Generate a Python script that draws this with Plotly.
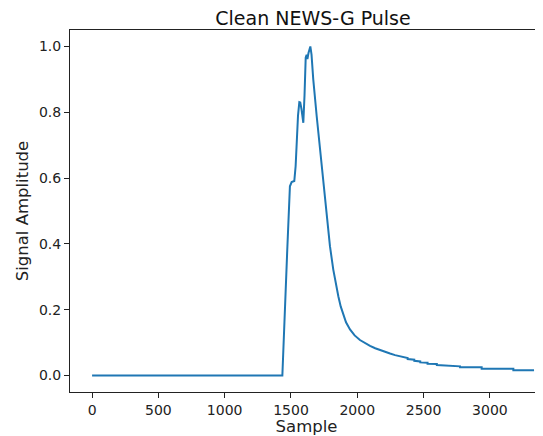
import plotly.graph_objects as go

# Breakpoints of the pulse (sample index, amplitude)
samples = [0, 1435, 1472, 1492, 1505, 1525, 1535, 1543, 1553, 1563, 1570, 1579,
           1593, 1602, 1611, 1618, 1624, 1632, 1646, 1655, 1668, 1694, 1719,
           1744, 1769, 1794, 1819, 1838, 1857, 1875, 1894, 1915, 1945, 1980,
           2020, 2060, 2096, 2135, 2172, 2210, 2247, 2285, 2322, 2380, 2380,
           2430, 2430, 2475, 2475, 2530, 2530, 2600, 2600, 2655, 2655, 2775,
           2775, 2938, 2938, 3177, 3177, 3333]
amplitude = [0.0, 0.0, 0.383, 0.575, 0.588, 0.591, 0.636, 0.717, 0.79, 0.831,
             0.83, 0.81, 0.768, 0.85, 0.966, 0.975, 0.962, 0.98, 1.0, 0.975,
             0.90, 0.788, 0.687, 0.575, 0.474, 0.393, 0.322, 0.278, 0.241,
             0.210, 0.185, 0.162, 0.140, 0.122, 0.108, 0.098, 0.090, 0.083,
             0.077, 0.072, 0.067, 0.062, 0.058, 0.053, 0.050, 0.048, 0.045,
             0.043, 0.040, 0.039, 0.036, 0.035, 0.032, 0.031, 0.029, 0.028,
             0.025, 0.025, 0.021, 0.021, 0.016, 0.016]

x_ticks = [0, 500, 1000, 1500, 2000, 2500, 3000]
y_ticks = [0.0, 0.2, 0.4, 0.6, 0.8, 1.0]

# the page has an 8px body margin, so the figure is 8px smaller than the window
W, H = 535, 428
font = "DejaVu Sans"

fig = go.Figure(go.Scatter(
    x=samples, y=amplitude, mode="lines",
    line=dict(color="#1f77b4", width=2),
    hoverinfo="skip", showlegend=False))

fig.update_layout(
    width=W, height=H,
    margin=dict(l=62, r=0, t=22, b=44),
    paper_bgcolor="white", plot_bgcolor="white",
    font=dict(family=font, size=14, color="#222"),
    title=dict(text="Clean NEWS-G Pulse", font=dict(family=font, size=19, color="#111"),
               xref="container", yref="container", x=305 / W, y=1 - 10 / H,
               xanchor="center", yanchor="middle"),
)
fig.update_xaxes(
    range=[-166.5, 3400.6], tickvals=x_ticks, ticktext=[str(v) for v in x_ticks],
    showgrid=False, zeroline=False, showline=True, linecolor="#222", linewidth=1,
    mirror=True, ticks="outside", ticklen=5, tickcolor="#222",
    title=dict(text="Sample", standoff=6, font=dict(family=font, size=16.5, color="#222")),
)
fig.update_yaxes(
    range=[-0.05, 1.05], tickvals=y_ticks, ticktext=[f"{v:.1f}" for v in y_ticks],
    showgrid=False, zeroline=False, showline=True, linecolor="#222", linewidth=1,
    mirror=False, ticks="outside", ticklen=5, tickcolor="#222",
    title=dict(text="Signal Amplitude", standoff=6, font=dict(family=font, size=16.5, color="#222")),
)

fig.write_html("out.html")
